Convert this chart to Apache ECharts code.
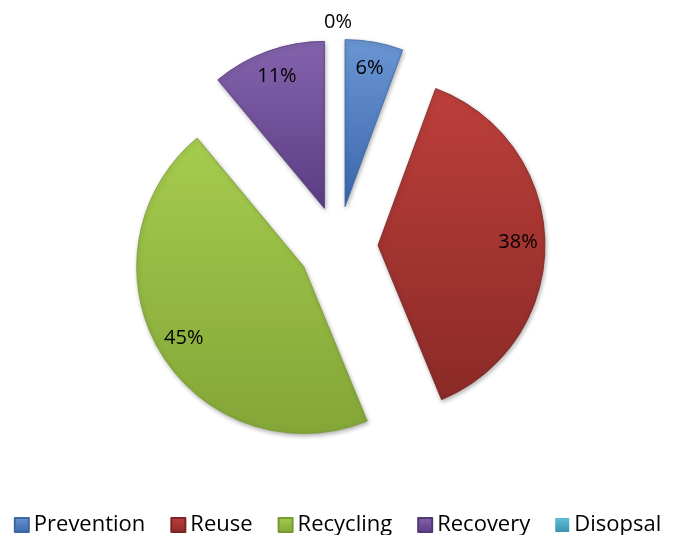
<!DOCTYPE html>
<html>
<head>
<meta charset="utf-8">
<script src="https://cdn.jsdelivr.net/npm/echarts@6/dist/echarts.min.js"></script>
<style>
html,body{margin:0;padding:0;background:#fff;}
#chart{width:675px;height:535px;}
</style>
</head>
<body>
<div id="chart"></div>
<script>
// Waste hierarchy shares (labels round them)
const categories = ['Prevention', 'Reuse', 'Recycling', 'Recovery', 'Disopsal'];
const shares = [5.6, 38.1, 45.1, 11.0, 0];

const topColors = ['#6a96d4', '#bd3f3b', '#a6cc4e', '#8463ac', '#5fbcd6'];
const bottomColors = ['#3b66ad', '#8a2a27', '#83a637', '#5b3d84', '#3a95b0'];
const edgeColors = ['#3f67a3', '#7a2522', '#789a33', '#503876', '#2d7f96'];

const FONT = 'Open Sans';
const CENTER = [338, 246];
const RADIUS = 167;
const OFFSET = 40;

function grad(i) {
  return new echarts.graphic.LinearGradient(0, 0, 0, 1, [
    { offset: 0, color: topColors[i] },
    { offset: 1, color: bottomColors[i] }
  ]);
}

const mainData = categories.map((name, i) => {
  const item = {
    name: name,
    value: shares[i],
    selected: true,
    itemStyle: { color: grad(i), borderColor: edgeColors[i], borderWidth: shares[i] > 0 ? 0.8 : 0 }
  };
  if (i === categories.length - 1) {
    item.label = {
      show: true,
      position: 'outside',
      distanceToLabelLine: -14
    };
    item.labelLine = { show: false, length: 17, length2: 0 };
  }
  return item;
});

const labelData = categories.map((name, i) => ({
  name: name,
  value: shares[i],
  selected: true,
  itemStyle: { color: 'rgba(0,0,0,0)' },
  label: { show: i !== categories.length - 1 }
}));

const fmt = p => Math.round(p.percent) + '%';

const chart = echarts.init(document.getElementById('chart'), null, { renderer: 'canvas' });
chart.setOption({
  animation: false,
  backgroundColor: '#ffffff',
  legend: {
    data: categories,
    left: 'center',
    top: 509,
    icon: 'rect',
    itemWidth: 14,
    itemHeight: 14,
    itemGap: 25,
    textStyle: { fontFamily: FONT, fontSize: 22, color: '#000' }
  },
  series: [
    {
      type: 'pie',
      center: CENTER,
      radius: [0, RADIUS],
      startAngle: 90,
      clockwise: true,
      selectedMode: 'multiple',
      selectedOffset: OFFSET,
      avoidLabelOverlap: false,
      silent: true,
      itemStyle: {
        shadowBlur: 4,
        shadowColor: 'rgba(0,0,0,0.3)',
        shadowOffsetX: 1,
        shadowOffsetY: 2
      },
      label: {
        show: false,
        formatter: fmt,
        fontFamily: FONT,
        fontSize: 20,
        color: '#000'
      },
      labelLine: { show: false },
      emphasis: { disabled: true },
      data: mainData
    },
    {
      type: 'pie',
      center: CENTER,
      radius: [120, 154],
      startAngle: 90,
      clockwise: true,
      selectedMode: 'multiple',
      selectedOffset: OFFSET,
      avoidLabelOverlap: false,
      silent: true,
      label: {
        show: true,
        position: 'inside',
        formatter: fmt,
        fontFamily: FONT,
        fontSize: 20,
        color: '#000'
      },
      labelLine: { show: false },
      emphasis: { disabled: true },
      data: labelData
    }
  ]
});
</script>
</body>
</html>
